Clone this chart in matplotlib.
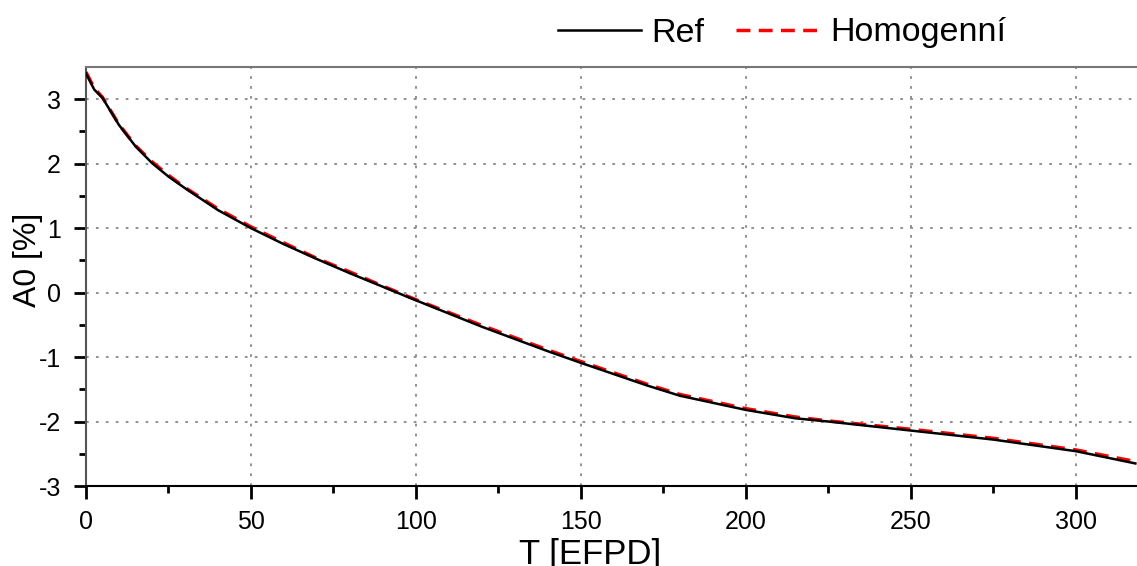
import numpy as np
import matplotlib.pyplot as plt

plt.rcParams['font.family'] = ['Liberation Sans', 'DejaVu Sans']
plt.rcParams['axes.unicode_minus'] = False

# === DATA ===
t_ref = [0, 2.5, 5, 10, 15, 20, 25, 30, 40, 50, 60, 70, 80, 90, 100,
         120, 140, 150, 170, 180, 200, 215, 225, 250, 275, 300, 318]
a0_ref = [3.40, 3.15, 3.02, 2.60, 2.27, 2.01, 1.80, 1.62, 1.28, 1.00, 0.75,
          0.52, 0.30, 0.09, -0.12, -0.53, -0.91, -1.09, -1.44, -1.60, -1.82,
          -1.95, -2.00, -2.14, -2.28, -2.46, -2.65]

t_hom = [0, 2.5, 5, 10, 15, 20, 25, 30, 40, 50, 60, 70, 80, 90, 100,
         120, 140, 150, 170, 180, 200, 215, 225, 250, 275, 300, 318]
a0_hom = [3.42, 3.17, 3.03, 2.61, 2.28, 2.03, 1.82, 1.63, 1.30, 1.02, 0.77,
          0.53, 0.32, 0.10, -0.11, -0.51, -0.89, -1.07, -1.42, -1.58, -1.80,
          -1.93, -1.99, -2.12, -2.26, -2.44, -2.62]

x_major = np.arange(0, 301, 50)
y_major = np.arange(-3, 4, 1)

# === PLOT ===
fig = plt.figure(figsize=(11.37, 5.66), dpi=100)
ax = fig.add_axes([86 / 1137, 1 - 486 / 566, 1 - 86 / 1137, (486 - 67) / 566])

ax.plot(t_ref, a0_ref, color='black', lw=1.8, label='Ref', zorder=3)
ax.plot(t_hom, a0_hom, color='red', lw=2.5, dashes=(4, 2.4), label='Homogenní', zorder=2)

ax.set_xlim(0, 318.5)
ax.set_ylim(-3, 3.5)
ax.set_xticks(x_major)
ax.set_yticks(y_major)
ax.set_xticks(np.arange(25, 318, 50), minor=True)
ax.set_yticks(np.arange(-2.5, 3.5, 1), minor=True)
ax.tick_params(which='major', direction='out', length=9, width=2, labelsize=18)
ax.tick_params(axis='x', which='major', pad=8)
ax.tick_params(axis='y', which='major', pad=9)
ax.tick_params(which='minor', direction='out', length=5, width=2)
ax.grid(True, which='major', color='#888888', linestyle=(0, (1.5, 4)), lw=1.3)

ax.spines['right'].set_visible(False)
ax.spines['top'].set_color('#777777')
ax.spines['top'].set_linewidth(1.5)
ax.spines['left'].set_color('#555555')
ax.spines['left'].set_linewidth(1.5)
ax.spines['bottom'].set_linewidth(1.5)

ax.set_xlabel('T [EFPD]', fontsize=25)
ax.xaxis.set_label_coords(0.48, -0.125)
ax.set_ylabel('A0 [%]', fontsize=23)
ax.yaxis.set_label_coords(-0.041, 0.54)

fig.legend(loc='center right', bbox_to_anchor=(1006 / 1137, 1 - 33 / 566),
           ncol=2, frameon=False, fontsize=24.5, handlelength=2.45,
           handletextpad=0.3, columnspacing=0.94, borderpad=0, borderaxespad=0)

fig.savefig('out.png', dpi=100)
